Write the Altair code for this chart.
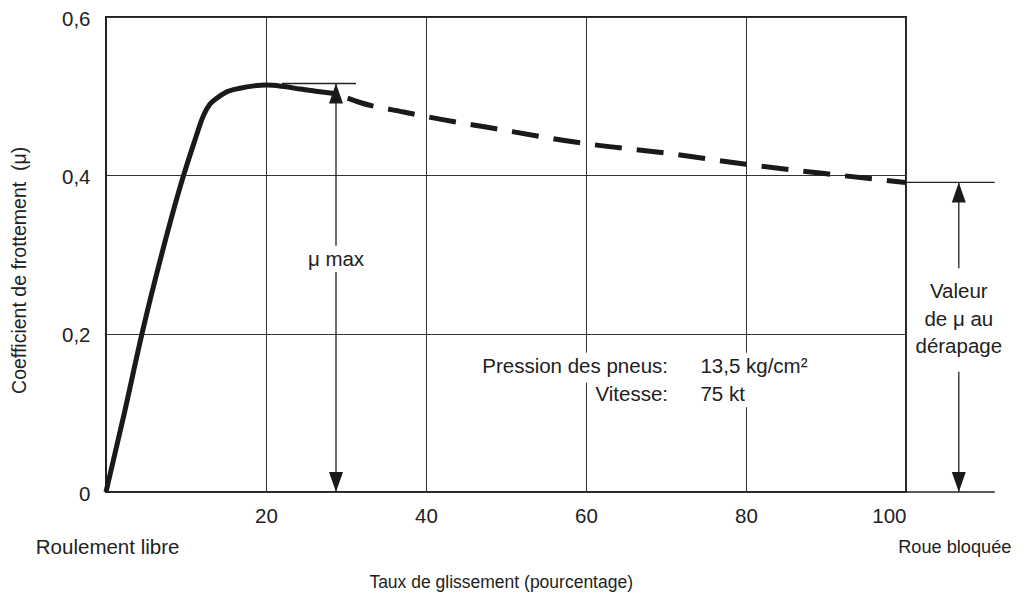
import altair as alt
import pandas as pd

# ---- data ----
solid_x = [0, 2.3, 4.5, 6.7, 9.7, 11.0, 12.2, 13.0, 13.8, 15.0, 16.75, 18.5, 20.1, 22.0, 24.25, 26.5, 28.8]
solid_y = [0, 0.100, 0.200, 0.290, 0.400, 0.441, 0.476, 0.490, 0.497, 0.505, 0.510, 0.513, 0.514, 0.5125, 0.509, 0.506, 0.503]

dash_x = [28.8, 31.75, 37.2, 41.75, 47.5, 60, 70, 80, 90, 100]
dash_y = [0.503, 0.492, 0.480, 0.471, 0.461, 0.440, 0.428, 0.414, 0.402, 0.391]

x_ticks = [20, 40, 60, 80, 100]
y_ticks = [0, 0.2, 0.4, 0.6]

mu_max = 0.516
mu_skid = 0.391
mu_max_x = 28.75
skid_x = 106.6

FONT = "Liberation Sans, Arial, Helvetica, sans-serif"
INK = "#1a1a1a"
TXT = "#222"

xs = alt.Scale(domain=[0, 100], nice=False)
ys = alt.Scale(domain=[0, 0.6], nice=False)

solid = pd.DataFrame({"x": solid_x, "y": solid_y})
dashed = pd.DataFrame({"x": dash_x, "y": dash_y})

base_axis_x = alt.Axis(values=x_ticks, title=None, ticks=False, domain=False,
                       grid=True, gridColor="#333", gridWidth=1,
                       labelFont=FONT, labelFontSize=20.5, labelColor=TXT,
                       labelPadding=14)
base_axis_y = alt.Axis(values=y_ticks, title=None, ticks=False, domain=False,
                       grid=True, gridColor="#333", gridWidth=1,
                       labelFont=FONT, labelFontSize=20.5, labelColor=TXT,
                       labelPadding=16, labelOffset=2,
                       labelExpr="datum.value == 0 ? '0' : replace(format(datum.value, '.1f'), '.', ',')")

line_solid = alt.Chart(solid).mark_line(color=INK, strokeWidth=5, interpolate="monotone").encode(
    x=alt.X("x:Q", scale=xs, axis=base_axis_x),
    y=alt.Y("y:Q", scale=ys, axis=base_axis_y),
)

line_dash = alt.Chart(dashed).mark_line(color=INK, strokeWidth=5, interpolate="monotone",
                                        strokeDash=[27, 15], strokeDashOffset=30,
                                        strokeCap="butt").encode(
    x=alt.X("x:Q", scale=xs), y=alt.Y("y:Q", scale=ys))

# white patches that interrupt the grid behind the condition text
gaps = pd.DataFrame({"x1": [58.5, 78.5], "x2": [61.5, 81.5],
                     "y1": [0.138, 0.107], "y2": [0.176, 0.176]})
gap_rects = alt.Chart(gaps).mark_rect(fill="white").encode(
    x=alt.X("x1:Q", scale=xs), x2="x2:Q", y=alt.Y("y1:Q", scale=ys), y2="y2:Q")

# annotation rules
rules = pd.DataFrame({
    "x1": [mu_max_x, mu_max_x, 22.0, skid_x, skid_x, 100, 100],
    "x2": [mu_max_x, mu_max_x, 31.25, skid_x, skid_x, 111.1, 111.1],
    "y1": [0, 0.311, mu_max, 0, 0.2825, mu_skid, 0],
    "y2": [0.278, mu_max, mu_max, 0.152, mu_skid, mu_skid, 0],
})
rule_layer = alt.Chart(rules).mark_rule(color="#222", strokeWidth=1.3).encode(
    x=alt.X("x1:Q", scale=xs), x2="x2:Q", y=alt.Y("y1:Q", scale=ys), y2="y2:Q")

up = pd.DataFrame({"x": [mu_max_x, skid_x], "y": [mu_max, mu_skid]})
down = pd.DataFrame({"x": [mu_max_x, skid_x], "y": [0, 0]})
arrow_up = alt.Chart(up).mark_point(shape="M0,0L-0.7,2L0.7,2Z", size=400, filled=True,
                                    color=INK, opacity=1).encode(
    x=alt.X("x:Q", scale=xs), y=alt.Y("y:Q", scale=ys))
arrow_down = alt.Chart(down).mark_point(shape="M0,0L-0.7,-2L0.7,-2Z", size=400, filled=True,
                                        color=INK, opacity=1).encode(
    x=alt.X("x:Q", scale=xs), y=alt.Y("y:Q", scale=ys))

def texts(df, **kw):
    params = dict(font=FONT, fontSize=20.5, color=TXT, baseline="middle")
    params.update(kw)
    return alt.Chart(df).mark_text(**params).encode(
        x=alt.X("x:Q", scale=xs), y=alt.Y("y:Q", scale=ys), text="t:N")

center_txt = pd.DataFrame({
    "x": [mu_max_x, skid_x, skid_x, skid_x, 0.2],
    "y": [0.293, 0.253, 0.217, 0.1835, -0.0707],
    "t": ["μ max", "Valeur", "de μ au", "dérapage", "Roulement libre"],
})
roue_txt = pd.DataFrame({"x": [106.1], "y": [-0.0707], "t": ["Roue bloquée"]})
xtitle = pd.DataFrame({"x": [49.4], "y": [-0.1145], "t": ["Taux de glissement (pourcentage)"]})
right_txt = pd.DataFrame({"x": [70.25, 70.25], "y": [0.158, 0.1225],
                          "t": ["Pression des pneus:", "Vitesse:"]})
left_txt = pd.DataFrame({"x": [74.3, 74.3], "y": [0.158, 0.1225],
                         "t": ["13,5 kg/cm²", "75 kt"]})
ytitle = pd.DataFrame({"x": [-10.75], "y": [0.28], "t": ["Coefficient de frottement\u00a0\u00a0(μ)"]})

chart = alt.layer(
    gap_rects, rule_layer, line_solid, line_dash, arrow_up, arrow_down,
    texts(center_txt, align="center"),
    texts(roue_txt, align="center", fontSize=18.2),
    texts(xtitle, align="center", fontSize=17.5),
    texts(right_txt, align="right"),
    texts(left_txt, align="left"),
    texts(ytitle, align="center", angle=270, fontSize=19.5),
).properties(
    width=800, height=475,
    autosize=alt.AutoSizeParams(type="none"),
    padding={"left": 98, "top": 9, "right": 117, "bottom": 102},
).configure_view(stroke="#222", strokeWidth=2)

chart.save("out.html", embed_options={"renderer": "svg", "actions": False})
